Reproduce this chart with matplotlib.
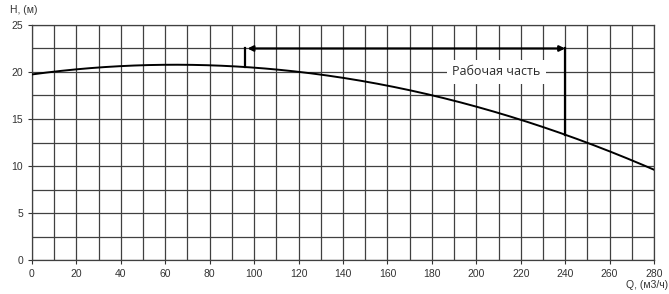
import numpy as np
import matplotlib.pyplot as plt
from matplotlib.ticker import MultipleLocator

# pump curve
q = [0, 20, 40, 60, 80, 96, 120, 140, 160, 180, 200, 220, 240, 260, 280]
h = [19.8, 20.2, 20.6, 20.8, 20.75, 20.5, 20.0, 19.4, 18.6, 17.5, 16.3, 14.9, 13.3, 11.6, 9.6]

work_start = 96
work_end = 240
work_level = 22.5
work_label = "Рабочая часть"

plt.rcParams['font.family'] = ['Liberation Sans', 'DejaVu Sans']

fig = plt.figure(figsize=(6.69, 2.94), dpi=100)
ax = fig.add_axes([0.0478, 0.1156, 0.9298, 0.7994])

ax.set_xlim(0, 280)
ax.set_ylim(0, 25)
ax.xaxis.set_major_locator(MultipleLocator(20))
ax.xaxis.set_minor_locator(MultipleLocator(10))
ax.yaxis.set_major_locator(MultipleLocator(5))
ax.yaxis.set_minor_locator(MultipleLocator(2.5))
ax.grid(True, which='both', color='#404040', linewidth=0.9)
ax.tick_params(which='both', labelsize=7.5, colors='#333333', length=3, width=0.8)
ax.tick_params(which='minor', length=0)
for s in ax.spines.values():
    s.set_color('#404040')
    s.set_linewidth(0.9)
ax.set_axisbelow(True)

# smooth curve through the read points
qq = np.linspace(0, 280, 300)
coef = np.polyfit(q, h, 3)
ax.plot(qq, np.polyval(coef, qq), color='black', linewidth=1.4, zorder=3)

h_start = np.polyval(coef, work_start)
h_end = np.polyval(coef, work_end)
ax.plot([work_start, work_start], [h_start, work_level], color='black', linewidth=1.6, zorder=3)
ax.plot([work_end, work_end], [h_end, work_level], color='black', linewidth=1.6, zorder=3)
ax.annotate('', xy=(work_start + 1, work_level), xytext=(work_end, work_level),
            arrowprops=dict(arrowstyle='<|-|>', color='black', lw=1.6,
                            mutation_scale=8, shrinkA=0, shrinkB=0), zorder=4)

ax.text(209, 20.0, work_label, fontsize=9, family=['Open Sans', 'DejaVu Sans'],
        ha='center', va='center', color='#2a2a2a', zorder=4,
        bbox=dict(facecolor='white', edgecolor='none', pad=4))

fig.text(0.015, 0.965, 'H, (м)', fontsize=7.5, color='#333333', ha='left', va='center')
fig.text(0.998, 0.03, 'Q, (м3/ч)', fontsize=7.5, color='#333333', ha='right', va='center')

fig.savefig('out.png', dpi=100)
